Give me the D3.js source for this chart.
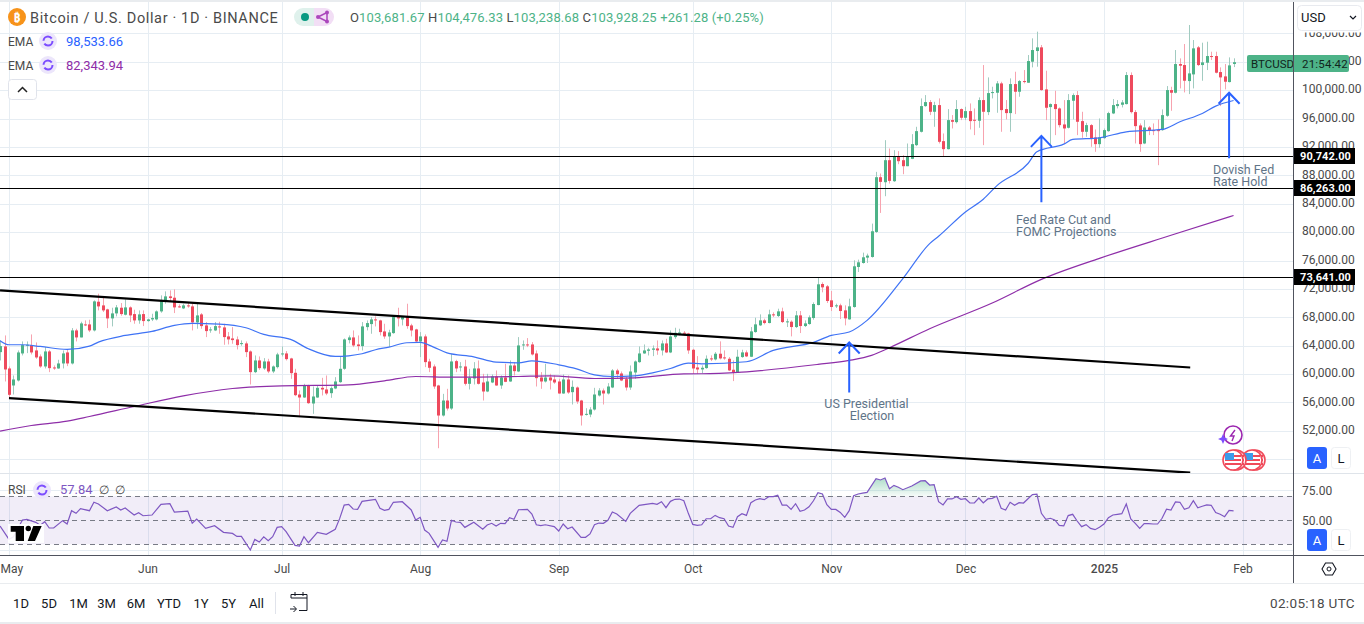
<!DOCTYPE html>
<html>
<head>
<meta charset="utf-8">
<style>
  html, body { margin: 0; padding: 0; background: #fff; overflow: hidden; }
  svg { display: block; }
  text { font-family: Roboto, "Noto Sans", sans-serif; }
</style>
</head>
<body>
<svg id="chart" width="1364" height="624"></svg>
<script src="https://d3js.org/d3.v7.min.js"></script>
<script>
// daily candles from 29 Apr 2024 (day -2) to 30 Jan 2025 (day 274), day 0 = 1 May 2024
const firstDay = -2
const opens = [
  63097,63896,60794,58397,59102,62909,63990,64084,63332,62486,61076,63191,60935,60794,61499,63050,61499,66152,65165,66998,
  66998,66152,70194,69677,69113,67844,68549,69348,68361,69395,68455,67562,68455,67468,67703,67703,68831,70288,70946,70758,
  69536,69254,69677,69536,67280,68408,66857,66152,66152,66716,66575,65306,65024,64883,64225,64319,63191,60277,61922,60794,
  61781,60371,60982,62815,62909,62204,60183,57128,56705,58350,55859,56705,58068,57833,57316,57974,58867,60747,64789,
  65164,64177,63942,66621,67044,67702,67561,66010,65305,65775,68031,67702,68125,66856,66292,64600,65305,61780,61075,58396,
  54166,56281,55153,61827,60934,61075,58631,59383,60793,58819,57550,58819,59665,58396,59524,58960,61216,60370,64083,64177,
  64177,62908,59524,58960,59524,59242,58960,57268,59242,57456,58114,56281,54307,54307,55012,56986,57691,57268,58114,60511,
  60088,59289,58114,60229,61686,62908,63284,63425,63613,63331,64318,63049,65211,65681,65822,65728,63425,60934,
  60659,60847,62210,62069,62868,62351,62163,60612,60236,62398,63056,62445,65923,66863,67568,67192,68414,68179,68837,67286,
  67380,66628,68273,66769,67051,67897,69730,72691,72362,70388,69542,69683,68978,67709,69448,75088,75652,76404,76498,80023,
  87731,87026,90128,87167,90598,90128,89282,
  90321,92248,94128,97747,98311,96948,97888,92812,91684,95773,95491,97324,96102,97042,95820,95679,98593,96901,99580,99627,
  100943,97324,96760,100849,99768,101272,101037,103998,105502,106019,100097,97606,98029,97418,95162,94692,98499,99298,95632,
  94128,95068,93329,92389,93235,94222,96713,97747,97935,98029,102118,96901,95021,92483,94739,94363,94363,94363,96384,100003,
  99627,103669,103528,101272,102212,106019,103528,103857,104797,104797,102541,101930,101131,103681.67
]
const highs = [
  64742,65447,61076,59807,63332,64601,64601,65588,64460,62768,63802,63379,61217,62016,63332,63426,66481,66387,67374,67562,
  67656,70382,71322,70852,69207,69348,69724,70006,70523,69536,69066,68972,68972,67797,68502,68972,71087,71651,71792,71933,
  69818,69912,70006,69912,69912,68596,67327,66622,67327,67374,67092,65917,66622,65306,64742,64601,63332,62627,62486,62251,
  62157,61217,63003,63896,63238,62298,60747,57692,58632,58491,58256,58397,59478,59807,58256,59572,62486,65024,65447,
  66151,65446,67326,67561,68031,68125,67655,67091,66245,68125,69347,68125,69911,67091,66386,65916,65587,62156,61357,58490,
  57221,57926,62861,62015,61686,62015,60746,61686,61921,60041,60041,59947,60511,59806,61451,61921,61686,65211,64741,65070,
  64506,63331,60276,61451,60041,59806,59336,59947,59806,59101,58255,56375,55200,55341,58067,58020,57973,58725,60699,60746,
  60370,59665,61216,61921,63895,64177,63707,64036,64741,64741,64976,66151,66527,66386,66057,65822,63566,62532,
  61223,62633,62633,63103,64607,63338,62398,61928,63432,63432,63338,66628,67944,68414,67803,69072,68696,69213,69354,67803,
  67568,68884,68884,67568,68273,70106,73537,72926,72550,71704,69918,69918,69683,70623,76028,76122,77109,76968,81198,88483,
  88248,92948,91773,91538,91397,90833,92478,
  93799,94833,98828,99298,98593,98358,98828,93893,97324,96478,98593,97418,97653,98123,97418,98969,103528,101789,100473,101272,
  101178,98593,101648,102588,101413,102823,104938,107288,108228,106348,102729,98123,99909,97559,98593,99439,99533,99862,96948,
  95397,95209,94457,96008,94598,96948,98734,98593,98593,102541,102494,97183,95303,95773,94927,95303,95867,97277,100567,100473,
  105643,104468,106489,109168,107053,106207,106677,106818,105408,105408,103199,103669,104609,104476.33
]
const lows = [
  61922,58961,56658,57128,58961,62627,62956,62768,62157,60888,60794,60277,60606,60747,60794,61123,61358,64601,65165,66763,
  65917,66011,68972,68737,66481,66716,68126,68220,68267,67327,67092,67092,66763,67374,67468,67562,68643,69912,70288,68596,
  69348,69160,69348,66152,66387,66387,65212,65823,66058,65682,64131,64178,64272,63473,63990,62392,58538,60136,60606,60606,
  60136,60136,60794,62486,61922,59337,56893,53932,56658,55812,54402,56658,56987,57034,56658,57880,58773,60606,64319,
  63801,63331,63331,66151,65681,66715,65446,64976,63801,65681,66715,66856,66386,65305,64506,62391,60981,60276,57926,49560,
  54025,54871,54965,60276,60370,58396,57832,58537,58537,56281,57456,58725,58349,57926,58866,58913,59806,60276,63425,63801,
  62626,58255,57926,58819,57832,58631,57221,57221,57221,55717,55811,52756,54166,53931,54871,56845,55717,57127,58020,59336,
  59007,57691,57785,59336,61592,62861,62626,62532,62720,62626,62955,62955,64976,65446,65446,62861,60041,60041,
  60142,60753,61834,61928,62069,62022,60424,59014,60189,62304,62398,62398,65829,66769,67004,67145,68038,68038,67192,66628,
  65312,66487,65782,66628,66957,67662,69683,71516,70012,68884,69307,67756,66863,67662,69354,74383,75558,75652,76404,79882,
  82702,85052,86838,87073,89564,88154,89282,
  90274,92107,94034,97653,96478,94833,92483,90697,91637,94598,95303,95773,95773,94457,93658,94692,92248,96478,98828,96807,
  94128,95867,94128,96619,99063,100943,101037,103199,103293,99909,95773,92248,93658,94739,92389,94598,95867,93658,93282,
  93423,92013,91308,91872,93141,94128,96619,97418,97559,97982,96713,92483,91308,92389,93658,93658,89428,94269,96243,97089,
  99533,100238,99674,99439,100238,103387,101319,102823,104233,102353,97747,100097,101084,103238.68
]
const closes = [
  63943,60653,57081,59243,63050,64084,64131,63050,62345,61076,63191,60841,60841,61499,62909,61499,66152,65165,67139,66904,
  66152,70241,69536,68972,67844,68549,69395,68455,69395,68267,67562,68408,67468,67703,67891,68831,70288,70946,70711,69395,
  69442,69677,69583,67280,68267,66763,66058,66293,66763,66622,65212,64883,64789,64084,64366,63097,60277,61922,60841,61781,
  60371,61076,62768,62909,62110,60136,57034,56705,58350,55906,56846,58068,57833,57269,58021,58961,60747,64883,65165,
  64036,63942,66715,67185,67702,67561,65916,65305,65869,68031,67843,68031,66762,66151,64600,65305,61686,60887,58255,54166,
  56281,55153,61780,60793,61075,58631,59477,60793,58631,57550,58960,59665,58396,59524,58913,61216,60417,64036,64177,64083,
  62767,59430,58960,59524,59101,58819,57268,59242,57409,58208,56140,54166,54401,55012,57127,57691,57268,58255,60511,59994,
  59101,58114,60370,61780,62908,63331,63472,63613,63331,64318,63049,65305,65822,65869,65681,63331,60793,60652,
  60894,62163,62069,62868,62210,62257,60518,60236,62445,63056,62492,66017,67004,67568,67192,68414,68273,68837,67333,67427,
  66628,68273,66769,67145,67991,69871,72644,72221,70294,69448,69683,68884,67850,69542,75182,75746,76451,76686,80117,87731,
  87073,90128,87214,90598,89987,89282,90598,
  92389,94222,97747,98311,96948,97888,92718,91684,95773,95538,97324,96102,97042,95632,95679,98593,96948,99580,99721,100943,
  97183,96760,100849,99768,101272,101131,104092,105643,106019,100003,97512,98029,97324,95068,94598,98593,99298,95538,94128,
  95068,93188,92389,93329,94363,96760,97888,98029,98264,102118,96901,94927,92389,94739,94269,94269,94269,96478,100003,99627,
  103669,103434,101319,102353,105878,103528,103904,104797,104703,102447,101789,101178,103481,103928.25
]

// EMA lines: [day, value]
const ema50Days = [-2,0,3,7,13,18,20,26,32,37,41,47,53,57,63,67,73,76,79,82,85,89,92,95,98,104,109,114,117,123,127,131,135,140,144,148,152,155,165,171,180,184,188,192,200,206,208,214,218,221,228,230,236,238,244,250,258,262,267,270,274]
const ema50Values = [64695,64131,64131,63896,63473,63943,64507,65447,66011,66857,67139,67045,66528,65588,64883,63567,62486,62580,62861,63425,63801,64412,64459,63801,62992,62438,61686,61592,61874,61310,60746,59900,59665,59759,60182,60793,61545,61451,61739,63338,64465,65452,65923,67568,73443,78378,79412,82843,84634,86514,89663,91308,92389,93047,93282,94128,94457,95538,96713,97747,98533.66]
const ema200Days = [-2,5,13,18,28,39,50,61,76,84,91,99,114,121,131,140,151,155,164,181,188,193,197,206,220,231,244,260,274]
const ema200Values = [51958,52757,53368,54026,55436,56940,57974,58350,58490,59054,59665,59571,59665,59759,59383,59477,60041,60048,60283,61364,61928,62633,63714,66393,70012,73343,76305,79549,82343.94]

// RSI(14)
const rsiDays = [-2,0,1,3,4,6,7,8,9,10,12,13,14,15,16,18,19,20,22,24,25,26,28,29,30,32,34,36,37,40,41,42,44,46,48,50,51,52,54,55,56,57,58,59,60,61,62,64,65,66,67,69,71,73,74,75,76,77,78,79,82,83,84,85,86,88,90,91,92,93,94,96,97,98,99,100,101,102,104,106,107,108,109,110,111,112,113,114,116,117,118,119,120,122,123,124,125,126,128,129,130,131,132,133,134,135,136,138,139,141,144,145,146,147,148,149,150,151,152,153,154,155,156,157,158,159,160,161,162,163,164,165,166,167,168,169,170,171,172,173,174,175,176,177,178,179,180,181,182,183,184,185,186,187,188,189,190,191,192,194,195,196,197,198,199,200,202,204,205,206,207,208,209,210,211,212,213,214,215,216,217,218,219,220,221,222,223,224,225,226,227,228,229,230,231,232,233,234,235,236,237,238,239,240,241,242,243,244,245,246,247,248,249,250,251,252,253,254,255,256,257,258,259,260,261,262,263,264,265,266,267,268,269,270,271,272,273,274]
const rsiValues = [45.2,34.1,36.3,50.2,50.8,48.3,45.8,48.8,43.6,43.6,49.7,46.9,58,55.8,59.7,58,65,63.6,58,61.1,58.6,60.2,54.4,56.3,53.8,54.4,63.3,63.8,56.9,57.7,47.5,51.1,43.3,45.5,40,39.1,36.6,36.6,25.2,34.1,31.9,36.3,33,36.3,44.1,44.7,40.5,29.1,28.6,36.3,31.3,40,38.3,42.5,51.6,62.7,63.3,59.4,59.1,65.8,67.5,60,58.3,59.1,65,65.5,58.6,50.2,52.5,41.9,39.1,27.5,33.6,32.5,50,48.6,48.3,44.1,48.3,42.5,46.1,47.5,45.2,47.5,47.2,52.2,50.8,58.8,59.1,55.2,46.3,45.5,46.3,44.7,41.1,46.9,43,44.4,35.8,35.8,38.6,46.3,47.7,47.5,49.96,56.9,55.2,49.1,55.8,62.5,64.1,63.3,65.5,60.5,65.8,67.5,67.7,66.3,55.8,46.6,45.8,46.3,51.3,51.3,54.1,52.2,51.3,45.2,44.1,53,55.5,54.1,64.7,66.9,68,67.2,69.7,69.7,70.8,62.7,62.7,59.1,63.8,57.5,58.6,61.3,66.3,73,71.9,63,59.1,59.1,56.6,52.5,58,70.5,71.9,72.7,73.3,84.7,83.6,85.2,76.3,79.1,77.5,75.5,78.6,82.8,83,79.4,79.7,65.5,62.8,67.8,67.8,69.7,67.5,68,64.4,64.4,68.6,64.4,67.8,68.3,70,60,58.6,65,62.5,64.7,64.4,68,71.4,71.7,55.8,50.8,51.7,50.3,45.8,45.3,53.9,55,49.4,44.7,46.4,43.3,42.2,44.2,46.9,52.2,54.4,55,55.5,63.6,51.1,47.5,43.3,47.2,47.2,46.9,46.9,51.7,59.2,58.6,65.3,65,59.2,60.5,66.4,60.5,61.7,62.8,62.5,56.4,55,53,58.3,57.84]

// drawings on the chart
const levels = [90742, 86263, 73641]
const channelTop = [[-2, 71791], [264.3, 60931]]
const channelBottom = [[0, 56629], [264.3, 46120]]
const arrowDays = [188, 231, 273]
const arrowTips = [64457, 93554, 99619]
const arrowTails = [57405, 84203, 90409]

const priceTicks = [52000,56000,60000,64000,68000,72000,76000,80000,84000,88000,92000,96000,100000,104000,108000]
const gridPrices = [48000].concat(priceTicks)
const rsiTicks = [75, 50]
const rsiGrid = [75, 25]
const rsiBands = [70, 50, 30]
const monthDays = [0, 31, 61, 92, 123, 153, 184, 214, 245, 276]
const monthLabels = ['May', 'Jun', 'Jul', 'Aug', 'Sep', 'Oct', 'Nov', 'Dec', '2025', 'Feb']
const ranges = ['1D', '5D', '1M', '3M', '6M', 'YTD', '1Y', '5Y', 'All']
const rangeX = [21, 49, 78.5, 106.5, 136, 169, 201, 228.5, 256.5]

const green = '#4db388', red = '#ee4a5d', greenWick = '#a1cbc0', redWick = '#f7a3af'
const gridColor = '#e6edf3', textColor = '#4a4a4a', blue = '#2962ff', purple = '#8e2ea8'

const width = 1293, mainBottom = 473, rsiTop = 474, rsiBottom = 555

const svg = d3.select('#chart')
svg.append('defs').append('clipPath').attr('id', 'pane')
  .append('rect').attr('x', 0).attr('y', 2).attr('width', width).attr('height', mainBottom - 2)
svg.select('defs').append('clipPath').attr('id', 'rsiPane')
  .append('rect').attr('x', 0).attr('y', rsiTop).attr('width', width).attr('height', rsiBottom - rsiTop)
const ob = svg.select('defs').append('linearGradient').attr('id', 'ob')
  .attr('x1', 0).attr('x2', 0).attr('y1', 0).attr('y2', 1)
ob.append('stop').attr('offset', '0%').attr('stop-color', '#4db388').attr('stop-opacity', 0.45)
ob.append('stop').attr('offset', '100%').attr('stop-color', '#4db388').attr('stop-opacity', 0.05)

const x = d3.scaleLinear().domain([0, 276]).range([9, 1242.5])
const y = d3.scaleLinear().domain([52000, 100000]).range([430.9, 90.1])
const yRsi = d3.scaleLinear().domain([30, 70]).range([544.3, 496.3])

const fmt = d3.format(',.2f')

// grid
const grid = svg.append('g')
grid.selectAll('.v').data(monthDays).enter().append('line')
  .attr('x1', d => Math.round(x(d)) + 0.5).attr('x2', d => Math.round(x(d)) + 0.5)
  .attr('y1', 2).attr('y2', rsiBottom).attr('stroke', gridColor)
grid.selectAll('.h').data(gridPrices).enter().append('line')
  .attr('x1', 0).attr('x2', width)
  .attr('y1', d => Math.round(y(d)) + 0.5).attr('y2', d => Math.round(y(d)) + 0.5).attr('stroke', gridColor)
grid.selectAll('.r').data(rsiGrid).enter().append('line')
  .attr('x1', 0).attr('x2', width)
  .attr('y1', d => Math.round(yRsi(d)) + 0.5).attr('y2', d => Math.round(yRsi(d)) + 0.5).attr('stroke', gridColor)

// candles
const candles = closes.map((c, i) => ({ day: firstDay + i, o: opens[i], h: highs[i], l: lows[i], c: c }))
const main = svg.append('g').attr('clip-path', 'url(#pane)')
main.append('g').selectAll('line').data(candles).enter().append('line')
  .attr('x1', d => Math.round(x(d.day)) + 0.5).attr('x2', d => Math.round(x(d.day)) + 0.5)
  .attr('y1', d => y(d.h)).attr('y2', d => y(d.l))
  .attr('stroke', d => d.c >= d.o ? greenWick : redWick)
main.append('g').selectAll('rect').data(candles).enter().append('rect')
  .attr('x', d => Math.round(x(d.day)) - 1).attr('width', 3)
  .attr('y', d => y(Math.max(d.o, d.c)))
  .attr('height', d => Math.max(1, Math.abs(y(d.o) - y(d.c))))
  .attr('fill', d => d.c >= d.o ? green : red)

// EMAs
const line = d3.line().x(d => x(d[0])).y(d => y(d[1]))
const smooth = d3.line().x(d => x(d[0])).y(d => y(d[1])).curve(d3.curveMonotoneX)
main.append('path').datum(d3.zip(ema200Days, ema200Values))
  .attr('fill', 'none').attr('stroke', purple).attr('stroke-width', 1.2).attr('d', smooth)
main.append('path').datum(d3.zip(ema50Days, ema50Values))
  .attr('fill', 'none').attr('stroke', '#3f73f5').attr('stroke-width', 1.2).attr('d', smooth)

// horizontal levels and channel
main.selectAll('.level').data(levels).enter().append('line')
  .attr('x1', 0).attr('x2', width)
  .attr('y1', d => Math.round(y(d)) + 0.5).attr('y2', d => Math.round(y(d)) + 0.5)
  .attr('stroke', '#000').attr('stroke-width', 1)
;[channelTop, channelBottom].forEach(c => {
  main.append('path').datum(c).attr('fill', 'none').attr('stroke', '#000').attr('stroke-width', 2.2).attr('d', line)
})

// arrows
arrowDays.forEach((d, i) => {
  const ax = x(d), tip = y(arrowTips[i]), tail = y(arrowTails[i])
  main.append('path')
    .attr('d', 'M' + ax + ',' + tail + 'L' + ax + ',' + tip + 'M' + (ax - 10.5) + ',' + (tip + 11) + 'L' + ax + ',' + tip + 'L' + (ax + 10.5) + ',' + (tip + 11))
    .attr('fill', 'none').attr('stroke', blue).attr('stroke-width', 2)
})

function note(t, px, py, anchor) {
  svg.append('text').attr('x', px).attr('y', py).attr('text-anchor', anchor || 'start')
    .attr('font-size', 12.5).attr('fill', '#5f7488').text(t)
}
note('US Presidential', 866.5, 408, 'middle')
note('Election', 872, 420, 'middle')
note('Fed Rate Cut and', 1016, 224)
note('FOMC Projections', 1016, 236)
note('Dovish Fed', 1213, 174)
note('Rate Hold', 1213, 186)

// RSI pane
const rsi = svg.append('g').attr('clip-path', 'url(#rsiPane)')
rsi.append('rect').attr('x', 0).attr('width', width)
  .attr('y', yRsi(70)).attr('height', yRsi(30) - yRsi(70)).attr('fill', '#7e57c2').attr('opacity', 0.11)
const rsiPoints = d3.zip(rsiDays, rsiValues)
rsi.append('path').datum(rsiPoints)
  .attr('d', d3.area().x(d => x(d[0])).y0(yRsi(70)).y1(d => yRsi(Math.max(d[1], 70))))
  .attr('fill', 'url(#ob)')
rsi.selectAll('.band').data(rsiBands).enter().append('line')
  .attr('x1', 0).attr('x2', width)
  .attr('y1', d => Math.round(yRsi(d)) + 0.5).attr('y2', d => Math.round(yRsi(d)) + 0.5)
  .attr('stroke', '#787b86').attr('stroke-dasharray', '5 4')
rsi.append('path').datum(rsiPoints)
  .attr('d', d3.line().x(d => x(d[0])).y(d => yRsi(d[1])))
  .attr('fill', 'none').attr('stroke', '#7e57c2').attr('stroke-width', 1.2)

// tradingview mark on the rsi pane
const logo = svg.append('g')
logo.append('rect').attr('x', 8).attr('y', 524).attr('width', 36).attr('height', 19).attr('fill', '#fff').attr('opacity', 0.9)
logo.append('path').attr('d', 'M10.7,526H24V541H15.7V531.7H10.7ZM33.3,526H41.7L35,541H27.7Z').attr('fill', '#000')
logo.append('circle').attr('cx', 28.3).attr('cy', 528.5).attr('r', 2.7).attr('fill', '#000')

// frames
svg.append('rect').attr('x', 0).attr('y', 0).attr('width', 1364).attr('height', 2).attr('fill', '#e9ecef')
svg.append('line').attr('x1', 0).attr('x2', 1364).attr('y1', 473.5).attr('y2', 473.5).attr('stroke', '#dfe4ea')
svg.append('line').attr('x1', 0).attr('x2', 1364).attr('y1', 555.5).attr('y2', 555.5).attr('stroke', '#50535e')
svg.append('line').attr('x1', 0).attr('x2', 1364).attr('y1', 583.5).attr('y2', 583.5).attr('stroke', '#e9ecef')
svg.append('rect').attr('x', 0).attr('y', 622).attr('width', 1364).attr('height', 2).attr('fill', '#e9ecef')

// price axis, labels sit a pixel above their grid line
const axis = svg.append('g').attr('transform', 'translate(1293,-1)')
  .call(d3.axisRight(y).tickValues(priceTicks).tickFormat(fmt).tickSize(0).tickPadding(9))
axis.select('.domain').remove()
axis.selectAll('text').attr('font-size', 12).attr('fill', textColor).attr('font-family', 'Roboto')

const rsiAxis = svg.append('g').attr('transform', 'translate(1293,0)')
  .call(d3.axisRight(yRsi).tickValues(rsiTicks).tickFormat(d3.format('.2f')).tickSize(0).tickPadding(9))
rsiAxis.select('.domain').remove()
rsiAxis.selectAll('text').attr('font-size', 12).attr('fill', textColor).attr('font-family', 'Roboto')

// level tags
levels.forEach(v => {
  const py = Math.round(y(v))
  svg.append('rect').attr('x', 1294).attr('y', py - 8).attr('width', 61).attr('height', 16).attr('fill', '#000')
  svg.append('text').attr('x', 1351).attr('y', py + 4).attr('text-anchor', 'end')
    .attr('font-size', 11).attr('font-weight', 700).attr('letter-spacing', 0.1).attr('fill', '#fff').text(fmt(v))
})

// symbol + countdown tag
svg.append('rect').attr('x', 1247).attr('y', 55).attr('width', 102).attr('height', 17).attr('rx', 2).attr('fill', '#4db388')
svg.append('text').attr('x', 1251).attr('y', 67.5).attr('font-size', 11.5).attr('fill', '#11251c').text('BTCUSD')
svg.append('text').attr('x', 1302).attr('y', 67.5).attr('font-size', 11.5).attr('letter-spacing', 0.2).attr('fill', '#11251c').text('21:54:42')

// price scale line sits over the tag
svg.append('line').attr('x1', width + 0.5).attr('x2', width + 0.5).attr('y1', 2).attr('y2', 583).attr('stroke', '#50535e')

// currency box, hides the top half of the first tick label
svg.append('rect').attr('x', 1296).attr('y', 3).attr('width', 68).attr('height', 29.5).attr('fill', '#fff')
svg.append('rect').attr('x', 1297.5).attr('y', 5.5).attr('width', 64).attr('height', 25).attr('rx', 4)
  .attr('fill', '#fff').attr('stroke', '#e8eaef')
svg.append('text').attr('x', 1301).attr('y', 22).attr('font-size', 13).attr('fill', '#131722').text('USD')
svg.append('path').attr('d', 'M1350,16L1353,19L1356,16').attr('fill', 'none').attr('stroke', '#131722').attr('stroke-width', 1.2)

// time axis
const timeAxis = svg.append('g').attr('transform', 'translate(0,556)')
  .call(d3.axisBottom(x).tickValues(monthDays).tickFormat((d, i) => monthLabels[i]).tickSize(0).tickPadding(8))
timeAxis.select('.domain').remove()
timeAxis.selectAll('text').attr('font-size', 12).attr('fill', textColor).attr('font-family', 'Roboto')
  .attr('font-weight', (d, i) => monthLabels[i] === '2025' ? 500 : 400)
  .attr('text-anchor', (d, i) => i === 0 ? 'start' : 'middle')
  .attr('dx', (d, i) => i === 0 ? -9 : 0)

// header
svg.append('circle').attr('cx', 17).attr('cy', 17).attr('r', 9).attr('fill', '#f7931a')
svg.append('text').attr('x', 17).attr('y', 21.5).attr('text-anchor', 'middle').attr('font-size', 12).attr('font-weight', 700).attr('fill', '#fff').text('₿')
svg.append('text').attr('x', 30).attr('y', 22.5).attr('font-size', 14.5).attr('letter-spacing', 0.64).attr('fill', textColor).text('Bitcoin / U.S. Dollar · 1D · BINANCE')
svg.append('path').attr('d', 'M303,8H314V26H303A9,9 0 0 1 303,8Z').attr('fill', '#dff1ec')
svg.append('path').attr('d', 'M314,8H325A9,9 0 0 1 325,26H314Z').attr('fill', '#f2def5')
svg.append('circle').attr('cx', 305).attr('cy', 17).attr('r', 4).attr('fill', '#089981')
svg.append('path').attr('d', 'M318,17L327,12.5M318,17L327,21.5M327,12.5V21.5').attr('stroke', '#ab47bc').attr('stroke-width', 1.5).attr('fill', 'none')
svg.selectAll('.dot').data([[318, 17], [327, 12.5], [327, 21.5]]).enter().append('circle')
  .attr('cx', d => d[0]).attr('cy', d => d[1]).attr('r', 2).attr('fill', '#ab47bc')

const ohlc = svg.append('text').attr('x', 350).attr('y', 22).attr('font-size', 13).attr('letter-spacing', 0.12)
;[['O', opens[opens.length - 1]], ['H', highs[highs.length - 1]], ['L', lows[lows.length - 1]], ['C', closes[closes.length - 1]]].forEach(p => {
  ohlc.append('tspan').attr('fill', textColor).text(p[0])
  ohlc.append('tspan').attr('fill', green).text(fmt(p[1]) + ' ')
})
ohlc.append('tspan').attr('fill', green).text('+261.28 (+0.25%)')

function refreshIcon(cx, cy) {
  svg.append('circle').attr('cx', cx).attr('cy', cy).attr('r', 9).attr('fill', '#ece6fb')
  svg.append('circle').attr('cx', cx).attr('cy', cy).attr('r', 4.5).attr('fill', 'none')
    .attr('stroke', '#7c4dff').attr('stroke-width', 2).attr('stroke-dasharray', '11 3')
}
svg.append('text').attr('x', 8).attr('y', 46).attr('font-size', 12).attr('fill', textColor).text('EMA')
refreshIcon(48, 41)
svg.append('text').attr('x', 66).attr('y', 46).attr('font-size', 13).attr('fill', '#2962ff').text(fmt(ema50Values[ema50Values.length - 1]))
svg.append('text').attr('x', 8).attr('y', 70).attr('font-size', 12).attr('fill', textColor).text('EMA')
refreshIcon(48, 65)
svg.append('text').attr('x', 66).attr('y', 70).attr('font-size', 13).attr('fill', purple).text(fmt(ema200Values[ema200Values.length - 1]))
svg.append('rect').attr('x', 8.5).attr('y', 79.5).attr('width', 28).attr('height', 20).attr('rx', 3).attr('fill', '#fff').attr('stroke', '#e0e3eb')
svg.append('path').attr('d', 'M18,92L22.5,87.5L27,92').attr('fill', 'none').attr('stroke', '#222').attr('stroke-width', 1.5)

svg.append('text').attr('x', 8).attr('y', 494).attr('font-size', 12).attr('fill', textColor).text('RSI')
refreshIcon(42, 490)
svg.append('text').attr('x', 60).attr('y', 494).attr('font-size', 13).attr('fill', '#7e57c2').text(rsiValues[rsiValues.length - 1].toFixed(2))
svg.append('text').attr('x', 99).attr('y', 494).attr('font-size', 12).attr('letter-spacing', 1.5).attr('fill', textColor).text('∅ ∅')

// auto / log buttons
;[447, 529].forEach(by => {
  svg.append('rect').attr('x', 1307).attr('y', by).attr('width', 20).attr('height', 22).attr('rx', 3).attr('fill', '#2962ff')
  svg.append('text').attr('x', 1317).attr('y', by + 15.5).attr('text-anchor', 'middle').attr('font-size', 13).attr('fill', '#fff').text('A')
  svg.append('rect').attr('x', 1331.5).attr('y', by + 0.5).attr('width', 19).attr('height', 21).attr('rx', 3).attr('fill', '#fff').attr('stroke', '#eef0f3')
  svg.append('text').attr('x', 1341).attr('y', by + 15.5).attr('text-anchor', 'middle').attr('font-size', 13).attr('fill', '#131722').text('L')
})

// chart settings icon
svg.append('path').attr('d', 'M1322,569L1325.5,563H1332.5L1336,569L1332.5,575H1325.5Z').attr('fill', 'none').attr('stroke', '#131722').attr('stroke-width', 1.1)
svg.append('circle').attr('cx', 1329).attr('cy', 569).attr('r', 2).attr('fill', 'none').attr('stroke', '#131722')

// event icons
svg.append('circle').attr('cx', 1233).attr('cy', 435).attr('r', 9).attr('fill', '#fff').attr('stroke', '#9c27b0').attr('stroke-width', 1.6)
svg.append('path').attr('d', 'M1235,430L1230.5,436H1234L1232,441').attr('fill', 'none').attr('stroke', '#9c27b0').attr('stroke-width', 1.4)
svg.append('path').attr('d', 'M1223,434L1224.5,437.5L1228,439L1224.5,440.5L1223,444L1221.5,440.5L1218,439L1221.5,437.5Z').attr('fill', '#7c4dff')
;[1255, 1252, 1236, 1233].forEach(cx => {
  svg.append('circle').attr('cx', cx).attr('cy', 460).attr('r', 10).attr('fill', '#fff').attr('stroke', '#f04a5a').attr('stroke-width', 1.6)
  svg.append('path').attr('d', 'M' + (cx - 8) + ',456H' + (cx + 8) + 'M' + (cx - 8) + ',460H' + (cx + 8) + 'M' + (cx - 8) + ',464H' + (cx + 8)).attr('stroke', '#f04a5a').attr('stroke-width', 2)
  svg.append('rect').attr('x', cx - 8).attr('y', 453).attr('width', 9).attr('height', 7).attr('fill', '#3d9be9')
})

// bottom toolbar
svg.append('g').selectAll('text').data(ranges).enter().append('text')
  .attr('x', (d, i) => rangeX[i]).attr('y', 608).attr('text-anchor', 'middle')
  .attr('font-size', 13).attr('fill', '#131722').text(d => d)
svg.append('line').attr('x1', 275.5).attr('x2', 275.5).attr('y1', 592).attr('y2', 614).attr('stroke', '#e0e3eb')
svg.append('path').attr('d', 'M291,598V594.5H307V610.5H299M291,598H307M295,592V596M303,592V596M290,609H296M293.5,606L296.5,609L293.5,612')
  .attr('fill', 'none').attr('stroke', '#131722').attr('stroke-width', 1)
svg.append('text').attr('x', 1355).attr('y', 608).attr('text-anchor', 'end').attr('font-size', 13.5).attr('letter-spacing', 0.35).attr('fill', textColor).text('02:05:18 UTC')
</script>
</body>
</html>
